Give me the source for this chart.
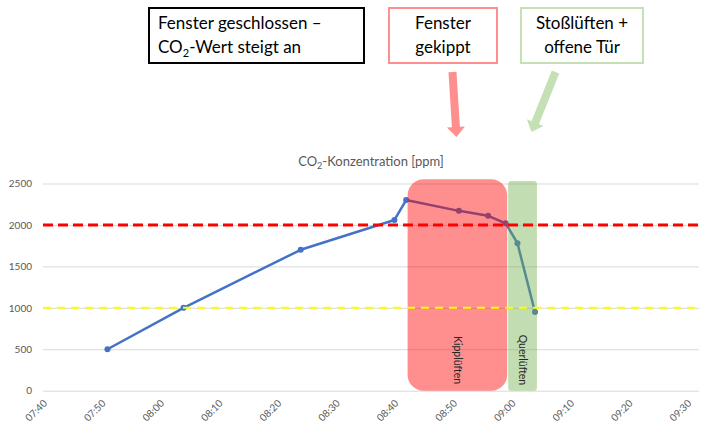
<!DOCTYPE html>
<html>
<head>
<meta charset="utf-8">
<script src="https://cdn.jsdelivr.net/npm/d3@7"></script>
<style>
  body { margin: 0; background: #fff; }
  svg { font-family: Lato, "Open Sans", sans-serif; }
</style>
</head>
<body>
<div class="chart"></div>
<script>
// Data

const times = ["07:51", "08:04", "08:24", "08:40", "08:42", "08:51", "08:56", "08:59", "09:01", "09:04"];
const co2 = [500, 1000, 1700, 2060, 2300, 2170, 2110, 2020, 1780, 950];
const yTicks = [0, 500, 1000, 1500, 2000, 2500];
const xTicks = ["07:40", "07:50", "08:00", "08:10", "08:20", "08:30", "08:40", "08:50", "09:00", "09:10", "09:20", "09:30"];
const thresholds = [2000, 1000];
const phaseLabels = ["Kipplüften", "Querlüften"];
const phaseStart = ["08:42:15", "08:59:25"];
const phaseEnd = ["08:59:15", "09:04:20"];
const phaseTop = [2550, 2530];

// Measurements

const width = 709;
const height = 423;
const plot = { left: 43, right: 699, top: 183.5, bottom: 390.7 };

const parseTime = d3.timeParse("%H:%M");
const parseTimeSec = d3.timeParse("%H:%M:%S");

const svg = d3
  .select(".chart")
  .append("svg")
  .attr("width", width)
  .attr("height", height);

// Scales

const xScale = d3
  .scaleTime()
  .domain([parseTime("07:40"), parseTime("09:32")])
  .range([plot.left, plot.right]);

const yScale = d3
  .scaleLinear()
  .domain([0, 2500])
  .range([plot.bottom, plot.top]);

// Title

const title = svg
  .append("text")
  .attr("x", 371)
  .attr("y", 166)
  .attr("text-anchor", "middle")
  .attr("fill", "#595959")
  .style("font-size", "13px");
title.append("tspan").text("CO");
title.append("tspan").text("2").style("font-size", "9px").attr("dy", 3);
title.append("tspan").text("-Konzentration [ppm]").attr("dy", -3);

// Axes (gridlines + labels)

const yAxis = svg
  .append("g")
  .attr("transform", `translate(${plot.left}, 0)`)
  .call(
    d3
      .axisLeft(yScale)
      .tickValues(yTicks)
      .tickFormat(d3.format("d"))
      .tickSize(-(plot.right - plot.left))
      .tickPadding(11)
  );
yAxis.select(".domain").remove();
yAxis.selectAll("line").attr("stroke", "#d9d9d9");
yAxis
  .selectAll("text")
  .attr("fill", "#595959")
  .style("font-size", "10px")
  .style("font-family", "Lato, sans-serif");

const xAxis = svg
  .append("g")
  .attr("transform", `translate(0, ${plot.bottom})`)
  .call(
    d3
      .axisBottom(xScale)
      .tickValues(xTicks.map((t) => parseTime(t)))
      .tickFormat(d3.timeFormat("%H:%M"))
      .tickSize(0)
  );
xAxis.select(".domain").remove();
xAxis
  .selectAll("text")
  .attr("fill", "#595959")
  .style("font-size", "10px")
  .style("font-family", "Lato, sans-serif")
  .attr("text-anchor", "end")
  .attr("dy", "0.3em")
  .attr("transform", "translate(0, 9) rotate(-45)");

// Data line

const series = times.map((t, i) => ({ time: parseTime(t), value: co2[i] }));

const line = d3
  .line()
  .x((d) => xScale(d.time))
  .y((d) => yScale(d.value));

svg
  .append("path")
  .datum(series)
  .attr("d", line)
  .attr("fill", "none")
  .attr("stroke", "#4472c4")
  .attr("stroke-width", 2.5)
  .attr("stroke-linejoin", "round");

svg
  .selectAll(".dot")
  .data(series)
  .enter()
  .append("circle")
  .attr("class", "dot")
  .attr("cx", (d) => xScale(d.time))
  .attr("cy", (d) => yScale(d.value))
  .attr("r", 3)
  .attr("fill", "#4472c4");

// Ventilation phases (translucent boxes over the line)

const phaseFill = ["rgba(255, 0, 0, 0.44)", "rgba(112, 173, 71, 0.42)"];
const phaseRadius = [16, 3];

const phases = phaseLabels.map((label, i) => ({
  label: label,
  start: parseTimeSec(phaseStart[i]),
  end: parseTimeSec(phaseEnd[i]),
  top: phaseTop[i],
}));

svg
  .selectAll(".phase")
  .data(phases)
  .enter()
  .append("rect")
  .attr("class", "phase")
  .attr("x", (d) => xScale(d.start))
  .attr("y", (d) => yScale(d.top))
  .attr("width", (d) => xScale(d.end) - xScale(d.start))
  .attr("height", (d) => yScale(0) - yScale(d.top))
  .attr("rx", (d, i) => phaseRadius[i])
  .attr("fill", (d, i) => phaseFill[i]);

svg
  .selectAll(".phase-label")
  .data(phases)
  .enter()
  .append("text")
  .attr("class", "phase-label")
  .attr("transform", (d) => {
    const cx = (xScale(d.start) + xScale(d.end)) / 2;
    return `translate(${cx}, 360) rotate(90)`;
  })
  .attr("text-anchor", "middle")
  .attr("dy", "0.35em")
  .attr("fill", "#262626")
  .style("font-size", "10.5px")
  .text((d) => d.label);

// Threshold lines

const thresholdColor = ["#ff0000", "#ffff00"];
const thresholdWidth = [3, 2];
const thresholdDash = ["10 5", "8 6"];

svg
  .selectAll(".threshold")
  .data(thresholds)
  .enter()
  .append("line")
  .attr("class", "threshold")
  .attr("x1", plot.left)
  .attr("x2", plot.right)
  .attr("y1", (d) => yScale(d))
  .attr("y2", (d) => yScale(d))
  .attr("stroke", (d, i) => thresholdColor[i])
  .attr("stroke-width", (d, i) => thresholdWidth[i])
  .attr("stroke-dasharray", (d, i) => thresholdDash[i]);

// Callout boxes at the top

const boxes = [
  { x: 149, w: 215, stroke: "#000", anchor: "start", tx: 158 },
  { x: 389, w: 108, stroke: "#ff8f8f", anchor: "middle", tx: 443 },
  { x: 521, w: 122, stroke: "#c5e0b4", anchor: "middle", tx: 582 },
];

svg
  .selectAll(".box")
  .data(boxes)
  .enter()
  .append("rect")
  .attr("class", "box")
  .attr("x", (d) => d.x)
  .attr("y", 8)
  .attr("width", (d) => d.w)
  .attr("height", 55)
  .attr("fill", "#fff")
  .attr("stroke", (d) => d.stroke)
  .attr("stroke-width", 2);

function boxText(d, line1) {
  const t = svg
    .append("text")
    .attr("x", d.tx)
    .attr("text-anchor", d.anchor)
    .attr("fill", "#000")
    .style("font-size", "17px");
  t.append("tspan").attr("x", d.tx).attr("y", 29).text(line1);
  t.append("tspan").attr("class", "second").attr("x", d.tx).attr("y", 53);
  return t;
}

const t1 = boxText(boxes[0], "Fenster geschlossen –");
t1.select(".second").text("CO");
t1.append("tspan").text("2").style("font-size", "11px").attr("dy", 4);
t1.append("tspan").text("-Wert steigt an").attr("dy", -4);

boxText(boxes[1], "Fenster").select(".second").text("gekippt");
boxText(boxes[2], "Stoßlüften +").select(".second").text("offene Tür");

// Arrows

function arrow(x1, y1, x2, y2, color) {
  const dx = x2 - x1;
  const dy = y2 - y1;
  const len = Math.sqrt(dx * dx + dy * dy);
  const angle = (Math.atan2(dy, dx) * 180) / Math.PI;
  const shaft = 4;
  const head = 9;
  const headLen = 10;
  svg
    .append("path")
    .attr(
      "d",
      `M0,${-shaft} L${len - headLen},${-shaft} L${len - headLen},${-head} L${len},0 ` +
        `L${len - headLen},${head} L${len - headLen},${shaft} L0,${shaft} Z`
    )
    .attr("fill", color)
    .attr("transform", `translate(${x1}, ${y1}) rotate(${angle})`);
}

arrow(452.5, 72, 456.5, 137, "#ff8f8f");
arrow(555.5, 72, 531.5, 132, "#c5e0b4");
</script>
</body>
</html>
